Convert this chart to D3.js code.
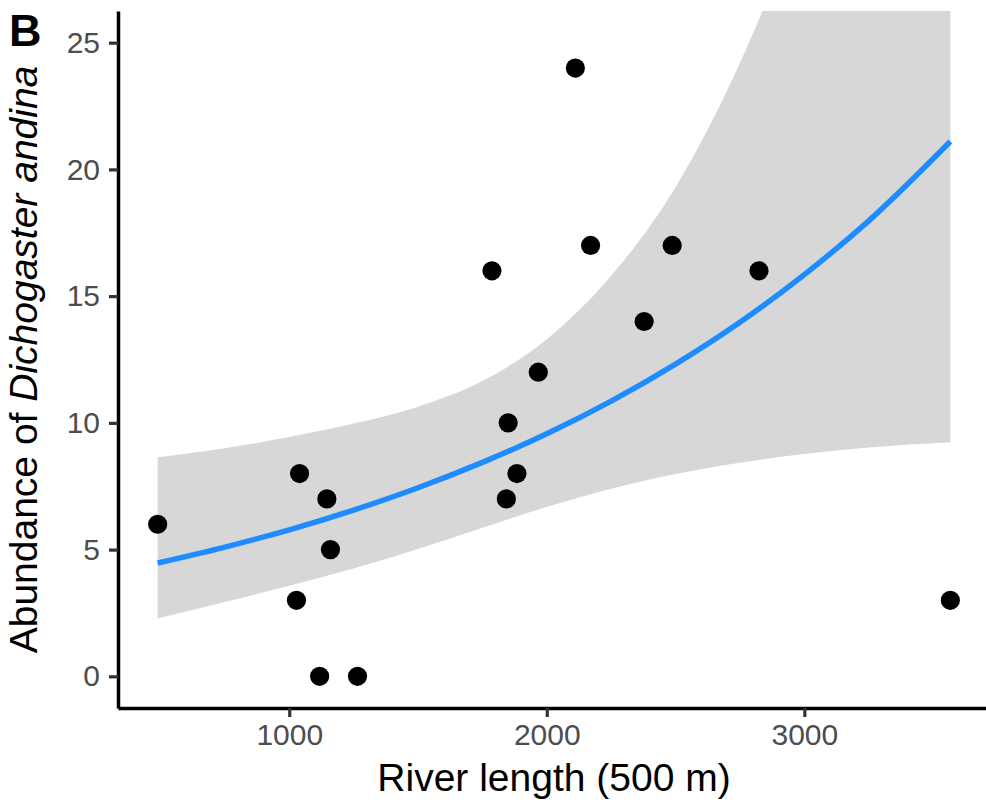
<!DOCTYPE html>
<html>
<head>
<meta charset="utf-8">
<script src="https://cdn.jsdelivr.net/npm/d3@7"></script>
<style>
  body { margin: 0; background: #fff; }
  svg { display: block; font-family: "Liberation Sans", Arial, sans-serif; }
</style>
</head>
<body>
<div id="chart"></div>
<script>
// observed sites: river length vs abundance
const riverLength = [489, 1028, 1040, 1118, 1146, 1160, 1265, 1787, 1843, 1850, 1884, 1967, 2111, 2170, 2378, 2487, 2824, 3567];
const abundance   = [6,   3,    8,    0,    7,    5,    0,    16,   7,    10,   8,    12,   24,   17,   14,   17,   16,   3];

// fitted curve and confidence band
const fitX  = [489, 750, 1000, 1250, 1500, 1750, 2000, 2250, 2500, 2750, 3000, 3250, 3567];
const fitY  = [4.47, 5.10, 5.78, 6.56, 7.44, 8.44, 9.57, 10.86, 12.32, 13.97, 15.85, 17.97, 21.1];
const lowY  = [2.28, 2.93, 3.57, 4.25, 5.02, 5.86, 6.68, 7.40, 7.98, 8.43, 8.77, 9.03, 9.24];
const uppY  = [8.64, 9.0, 9.44, 9.97, 10.64, 11.65, 13.3, 15.8, 19.3, 24.2, 30.5, 38, 50];

const xTicks = [1000, 2000, 3000];
const yTicks = [0, 5, 10, 15, 20, 25];

const W = 986, H = 808;
const margin = {top: 11, right: -4, bottom: 100, left: 118};
const width = W - margin.left - margin.right;
const height = H - margin.top - margin.bottom;

const svg = d3.select("#chart").append("svg")
    .attr("width", W)
    .attr("height", H);

const g = svg.append("g")
    .attr("transform", `translate(${margin.left}, ${margin.top})`);

const x = d3.scaleLinear().domain([335, 3721]).range([0, width]);
const y = d3.scaleLinear().domain([-1.25, 26.25]).range([height, 0]);

g.append("clipPath").attr("id", "panel")
  .append("rect").attr("width", width).attr("height", height);

const band = fitX.map((v, i) => ({x: v, lo: lowY[i], hi: uppY[i], fit: fitY[i]}));

// confidence band
g.append("path")
    .datum(band)
    .attr("clip-path", "url(#panel)")
    .attr("fill", "#d7d7d7")
    .attr("d", d3.area()
      .curve(d3.curveMonotoneX)
      .x(d => x(d.x))
      .y0(d => y(d.lo))
      .y1(d => y(d.hi)));

// fitted line
g.append("path")
    .datum(band)
    .attr("fill", "none")
    .attr("stroke", "#1E8CFF")
    .attr("stroke-width", 5.5)
    .attr("d", d3.line()
      .curve(d3.curveMonotoneX)
      .x(d => x(d.x))
      .y(d => y(d.fit)));

// points
g.append("g")
  .selectAll("circle")
  .data(riverLength.map((v, i) => [v, abundance[i]]))
  .join("circle")
    .attr("cx", d => x(d[0]))
    .attr("cy", d => y(d[1]))
    .attr("r", 9.6)
    .attr("fill", "#000");

// axes
const xAxis = g.append("g")
    .attr("transform", `translate(0, ${height})`)
    .call(d3.axisBottom(x).tickValues(xTicks).tickFormat(d3.format("d"))
      .tickSize(9).tickSizeOuter(0).tickPadding(7));

const yAxis = g.append("g")
    .call(d3.axisLeft(y).tickValues(yTicks).tickSize(9).tickSizeOuter(0).tickPadding(9));

[xAxis, yAxis].forEach(a => {
  a.select(".domain").attr("stroke", "#000").attr("stroke-width", 3.5);
  a.selectAll(".tick line").attr("stroke", "#333").attr("stroke-width", 3.2);
  a.selectAll(".tick text")
    .attr("fill", "#4d4d4d")
    .style("font-size", "30px")
    .style("font-family", "Liberation Sans, Arial, sans-serif");
});

// x-axis label
g.append("text")
    .attr("x", width / 2)
    .attr("y", height + 83)
    .attr("text-anchor", "middle")
    .style("font-size", "39px")
    .text("River length (500 m)");

// y-axis label
const yl = svg.append("text")
    .attr("transform", `translate(37, ${margin.top + height / 2}) rotate(-90)`)
    .attr("text-anchor", "middle")
    .style("font-size", "39px");
yl.append("tspan").text("Abundance of ");
yl.append("tspan").attr("font-style", "italic").text("Dichogaster andina");

// panel tag
svg.append("text")
    .attr("x", 9)
    .attr("y", 46)
    .style("font-size", "45px")
    .style("font-weight", "bold")
    .text("B");
</script>
</body>
</html>
